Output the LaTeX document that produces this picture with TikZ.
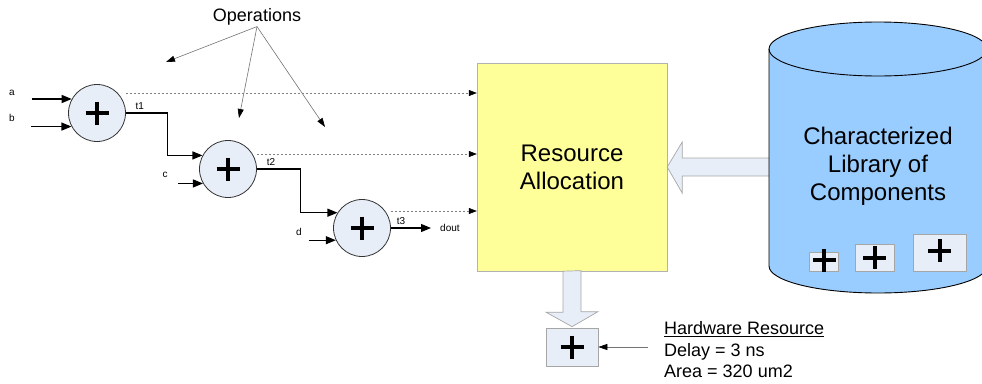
\documentclass[tikz,border=0pt]{standalone}
\usepackage{fontspec}
\setmainfont{Liberation Sans}
\usetikzlibrary{arrows.meta,calc}

\definecolor{opfill}{HTML}{E8EEF8}
\definecolor{allocfill}{HTML}{FFFF99}
\definecolor{libfill}{HTML}{99CCFF}

\tikzset{
  adder/.style={circle, draw=black!80, fill=opfill, line width=0.8pt, minimum size=57pt, inner sep=0pt},
  compbox/.style={draw=black!35, fill=opfill, line width=0.7pt, inner sep=0pt},
  sig/.style={font=\fontsize{10}{12}\selectfont, inner sep=1pt},
  wire/.style={line width=1.1pt, -{Triangle[length=10pt,width=8pt]}},
  info/.style={black!50, dash pattern=on 2pt off 2pt, line width=0.6pt, -{Triangle[length=8pt,width=6pt,color=black]}},
  pointer/.style={black!55, line width=0.6pt, -{Triangle[length=9pt,width=6pt,color=black]}},
  fatarrow/.style={draw=black!35, fill=opfill, line width=0.7pt},
  addsign/.pic={\draw[line width=4pt] (-11.5,0) -- (11.5,0) (0,-11.5) -- (0,11.5);}
}

\begin{document}
\begin{tikzpicture}[x=1pt, y=-1pt]
\clip (0,0) rectangle (982,383);

% operations
\node[font=\fontsize{18}{21}\selectfont, inner sep=1pt] (ops) at (257,17) {Operations};
\coordinate (op1) at (166,62);
\coordinate (op2) at (239,118);
\coordinate (op3) at (325,127);

\node[adder] (add1) at (97,113) {};
\node[adder] (add2) at (228,169) {};
\node[adder] (add3) at (362,228) {};
\pic at (add1) {addsign};
\pic at (add2) {addsign};
\pic at (add3) {addsign};

\draw[pointer] (ops.south) -- (op1);
\draw[pointer] (ops.south) -- (op2);
\draw[pointer] (ops.south) -- (op3);

% allocation block
\node[draw=black!30, fill=allocfill, minimum width=190, minimum height=208,
      font=\fontsize{24}{28}\selectfont, align=center] (alloc) at (572,167) {Resource\\Allocation};

% inputs
\node[sig] (la) at (12,93) {a};
\node[sig] (lb) at (12,118) {b};
\node[sig] (lc) at (165,175) {c};
\node[sig] (ld) at (299,232) {d};
\draw[wire] ($(add1.151)+(-40,0)$) -- (add1.151);
\draw[wire] ($(add1.208)+(-40,0)$) -- (add1.208);
\draw[wire] ($(add2.210)+(-25,0)$) -- (add2.210);
\draw[wire] ($(add3.205)+(-27,0)$) -- (add3.205);

% chain
\draw[wire] (add1.east) -- node[sig, pos=0.33, above=2pt] (t1) {t1} ++(42,0) |- (add2.152);
\draw[wire] (add2.east) -- node[sig, pos=0.32, above=2pt] (t2) {t2} ++(44,0) |- (add3.148);
\node[sig, anchor=west] (dout) at (439,228) {dout};
\draw[wire] (add3.east) -- node[sig, pos=0.25, above=2pt] (t3) {t3} ($(dout.west)+(-8,0)$);

% timing into allocation
\draw[info] ($(add1.east)+(0,-20)$) coordinate (d1) -- (d1 -| alloc.west);
\draw[info] ($(add2.east)+(0,-15)$) coordinate (d2) -- (d2 -| alloc.west);
\draw[info] ($(add3.east)+(0,-17)$) coordinate (d3) -- (d3 -| alloc.west);

% library -> allocation
\draw[fatarrow] (alloc.east) -- ++(15,-25) -- ++(0,16) -- ++(90,0) -- ++(0,18)
  -- ++(-90,0) -- ++(0,17) -- cycle;

% library cylinder
\fill[libfill] (769,49) -- (769,266) arc[start angle=180, end angle=0, x radius=109, y radius=27]
  -- (987,49) arc[start angle=360, end angle=180, x radius=109, y radius=27] -- cycle;
\draw[line width=0.9pt] (769,49) -- (769,266) arc[start angle=180, end angle=0, x radius=109, y radius=27]
  -- (987,49);
\draw[line width=0.9pt] (878,49) ellipse[x radius=109, y radius=27];
\node[font=\fontsize{24}{28}\selectfont, align=center] (lib) at (878,166) {Characterized\\Library of\\Components};

\node[compbox, minimum width=29, minimum height=19] (b1) at (823.5,261.5) {};
\node[compbox, minimum width=39, minimum height=27] (b2) at (874.5,257.5) {};
\node[compbox, minimum width=53, minimum height=37] (b3) at (939.5,252.5) {};
\pic at ($(b1)+(0.5,-1.5)$) {addsign};
\pic at (b2) {addsign};
\pic at ($(b3)+(0,-2)$) {addsign};

% hardware resource
\node[compbox, minimum width=52, minimum height=38] (hw) at (572,347) {};
\pic at (hw) {addsign};
\draw[fatarrow] (alloc.south) ++(-9,0) -- ++(0,41) -- ++(-17,0) -- ($(hw.north)+(0,-1)$)
  -- ++(26,-15) -- ++(-17,0) -- ++(0,-41) -- cycle;

\node[anchor=west, align=left, font=\fontsize{18}{21.5}\selectfont, inner sep=0pt] (hwinfo) at (664,350)
  {\underline{Hardware Resource}\\Delay = 3 ns\\Area = 320 um2};
\coordinate (hwsrc) at (648,347);
\draw[pointer] (hwsrc) -- (hw.east);
\end{tikzpicture}
\end{document}
